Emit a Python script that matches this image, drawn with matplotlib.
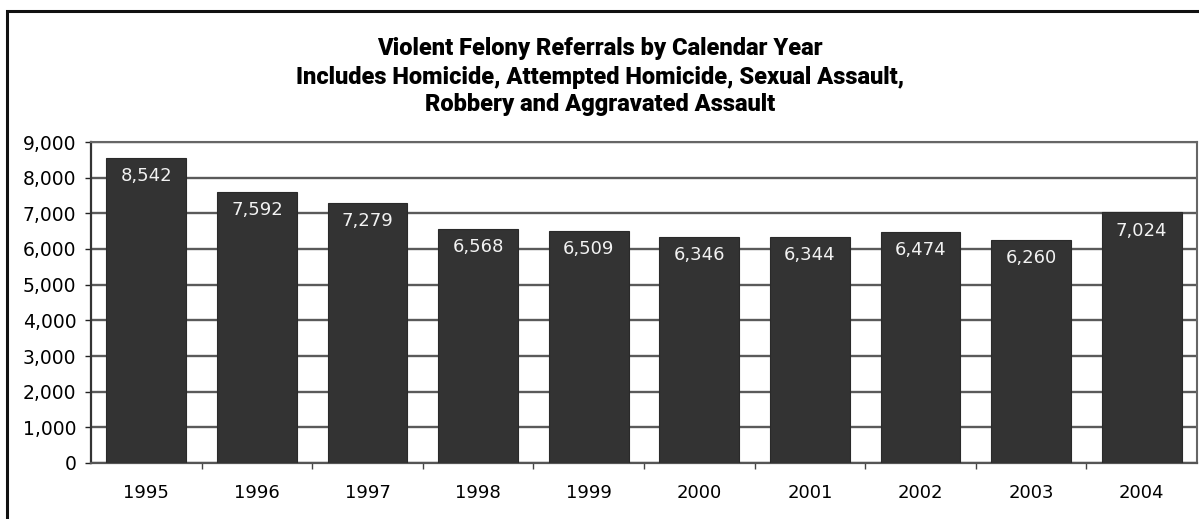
import matplotlib
matplotlib.use("Agg")
import matplotlib.pyplot as plt
from matplotlib.patches import Rectangle
from matplotlib.ticker import FuncFormatter, FixedLocator

years = ["1995", "1996", "1997", "1998", "1999", "2000", "2001", "2002", "2003", "2004"]
referrals = [8542, 7592, 7279, 6568, 6509, 6346, 6344, 6474, 6260, 7024]
y_ticks = [0, 1000, 2000, 3000, 4000, 5000, 6000, 7000, 8000, 9000]

W, H = 1199, 519
fig = plt.figure(figsize=(W / 100, H / 100), dpi=100)
fig.patch.set_facecolor("white")

# outer frame around the whole chart
fig.patches.append(Rectangle((7 / W, -0.2), 1.2, 1 - 11 / H + 0.2,
                             transform=fig.transFigure, fill=False,
                             edgecolor="#111111", linewidth=2.2, zorder=0))

ax = fig.add_axes([91 / W, 1 - 463 / H, (1197 - 91) / W, (463 - 142) / H])
x = list(range(len(years)))
ax.bar(x, referrals, width=0.72, color="#333333", edgecolor="#2a2a2a",
       linewidth=0.8, zorder=3)

for xi, v in zip(x, referrals):
    ax.annotate(f"{v:,}", xy=(xi, v), xytext=(0, -13), textcoords="offset points",
                ha="center", va="center", color="#f2f2f2", fontsize=13,
                family="DejaVu Sans", zorder=4)

ax.set_ylim(0, 9000)
ax.set_xlim(-0.5, len(years) - 0.5)
ax.yaxis.set_major_locator(FixedLocator(y_ticks))
ax.yaxis.set_major_formatter(FuncFormatter(lambda v, p: f"{int(v):,}"))
ax.set_xticks(x)
ax.set_xticklabels(years)
ax.set_xticks([i - 0.5 for i in range(1, len(years))], minor=True)
ax.tick_params(axis="x", which="major", length=0, pad=15, labelsize=13)
ax.tick_params(axis="x", which="minor", length=4, width=1, color="#444444", direction="out")
ax.tick_params(axis="y", length=4.5, width=1, color="#222222", pad=6, labelsize=13.5)

ax.grid(axis="y", color="#5a5a5a", linewidth=1.7, zorder=1)
for s in ["top", "right"]:
    ax.spines[s].set_color("#666666")
    ax.spines[s].set_linewidth(1.5)
    ax.spines[s].set_linestyle((0, (1, 1)))
ax.spines["left"].set_color("#333333")
ax.spines["left"].set_linewidth(1.6)
ax.spines["bottom"].set_color("#555555")
ax.spines["bottom"].set_linewidth(1.6)

title_lines = ["Violent Felony Referrals by Calendar Year",
               "Includes Homicide, Attempted Homicide, Sexual Assault,",
               "Robbery and Aggravated Assault"]
for line, ypx in zip(title_lines, [55, 84, 111]):
    fig.text(600 / W, 1 - ypx / H, line, ha="center", va="baseline",
             fontsize=17, fontweight="black", family="Roboto", color="black")

fig.savefig("out.png", dpi=100, facecolor="white")
